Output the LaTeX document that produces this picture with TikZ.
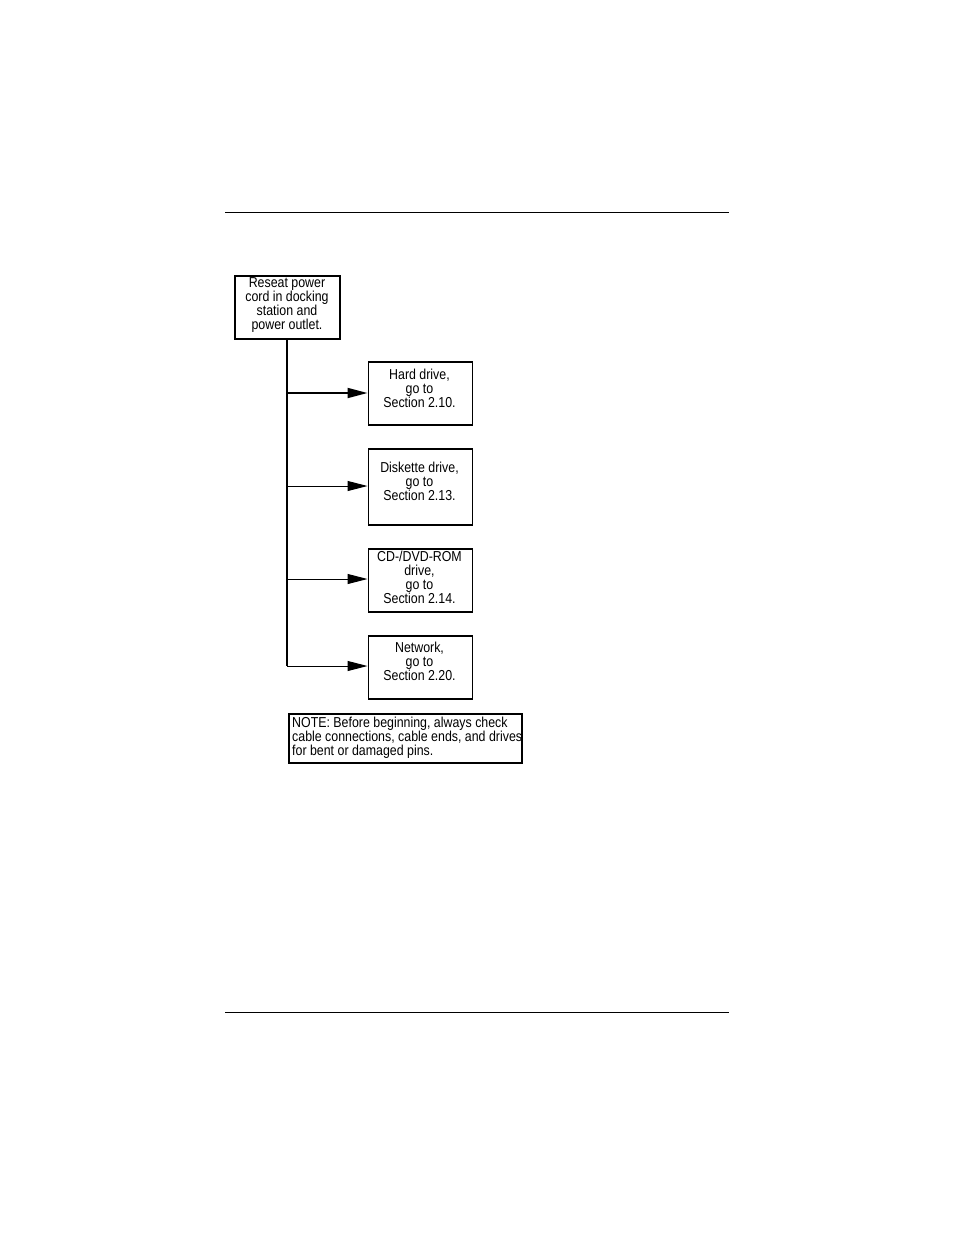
\documentclass[tikz,border=0pt]{standalone}
\usepackage{fontspec}
\setmainfont{Liberation Sans}[FakeStretch=0.86]
\usetikzlibrary{arrows.meta}
\begin{document}
\begin{tikzpicture}[x=1pt,y=-1pt,
  box/.style={draw,line width=1.8pt,inner sep=0pt,anchor=north west},
  txt/.style={align=center,font=\fontsize{14.4}{14.1}\selectfont,inner sep=0pt},
  conn/.style={line width=1.4pt},
  arr/.style={line width=1pt,-{Triangle[length=20pt,width=10pt]}},
  rulel/.style={line width=1pt}]
\useasboundingbox (0,0) rectangle (954,1235);
\coordinate (r1a) at (225,212); \coordinate (r1b) at (729,212);
\coordinate (r2a) at (225,1012); \coordinate (r2b) at (729,1012);
\draw[rulel] (r1a) -- (r1b);
\draw[rulel] (r2a) -- (r2b);
% boxes
\node[box,minimum width=105pt,minimum height=63pt] (b1) at (234,275) {};
\node[box,minimum width=104pt,minimum height=63pt] (b2) at (367.5,361) {};
\node[box,minimum width=104pt,minimum height=76pt] (b3) at (367.5,448) {};
\node[box,minimum width=104pt,minimum height=63pt] (b4) at (367.5,548) {};
\node[box,minimum width=104pt,minimum height=63pt] (b5) at (367.5,635) {};
\node[box,minimum width=233pt,minimum height=49pt] (b6) at (288,713) {};
% texts
\node[txt] (t1) at (287,305) {Reseat power\\cord in docking\\station and\\power outlet.};
\node[txt] (t2) at (419.5,388) {Hard drive,\\go to\\Section 2.10.};
\node[txt] (t3) at (419.5,481) {Diskette drive,\\go to\\Section 2.13.};
\node[txt] (t4) at (419.5,577.5) {CD-/DVD-ROM\\drive,\\go to\\Section 2.14.};
\node[txt] (t5) at (419.5,661) {Network,\\go to\\Section 2.20.};
\node[txt,align=left,anchor=west] (t6) at (292,738) {NOTE: Before beginning, always check\\cable connections, cable ends, and drives\\for bent or damaged pins.};
% connectors
\coordinate (j2) at (287,393);
\coordinate (j3) at (287,486);
\coordinate (j4) at (287,579);
\coordinate (j5) at (287,666);
\draw[conn] (b1.south -| j2) -- (j5);
\draw[arr,line width=1.8pt] (j2) -- (j2 -| b2.west);
\draw[arr] (j3) -- (j3 -| b3.west);
\draw[arr] (j4) -- (j4 -| b4.west);
\draw[arr] (j5) -- (j5 -| b5.west);
\end{tikzpicture}
\end{document}
